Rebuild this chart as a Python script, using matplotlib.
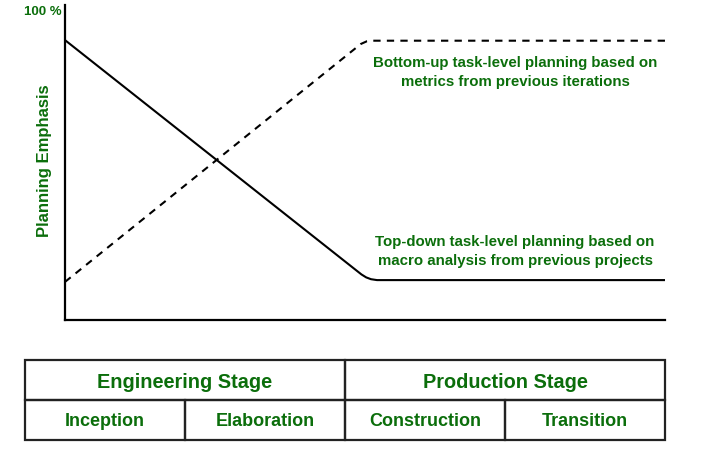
import matplotlib.pyplot as plt
from matplotlib.patches import Rectangle

plt.rcParams['font.family'] = ['Liberation Sans', 'DejaVu Sans']

GREEN = '#0b6e0b'

# curves, x = project time (0-100), y = planning emphasis (0-105)
top_down_x = [0, 49.4, 50.2, 51.0, 52.0, 100]
top_down_y = [93.3, 15.2, 14.2, 13.6, 13.3, 13.3]
bottom_up_x = [0, 49.3, 50.3, 51.2, 100]
bottom_up_y = [12.7, 92.0, 92.9, 93.1, 93.1]

top_down_label = 'Top-down task-level planning based on\nmacro analysis from previous projects'
bottom_up_label = 'Bottom-up task-level planning based on\nmetrics from previous iterations'

stages = ['Engineering Stage', 'Production Stage']
phases = ['Inception', 'Elaboration', 'Construction', 'Transition']

W, H = 719, 472
fig = plt.figure(figsize=(W / 100, H / 100), dpi=100)

def box(x0, y0, x1, y1):
    # pixel box (from top-left) -> figure fraction
    return [x0 / W, 1 - y1 / H, (x1 - x0) / W, (y1 - y0) / H]

ax = fig.add_axes(box(65, 5, 665, 320))
ax.plot(top_down_x, top_down_y, color='black', lw=1.5, solid_capstyle='butt')
ax.plot(bottom_up_x, bottom_up_y, color='black', lw=1.5, linestyle=(0, (3.5, 3)))
ax.set_xlim(0, 100)
ax.set_ylim(0, 105)
ax.spines['top'].set_visible(False)
ax.spines['right'].set_visible(False)
for s in ['left', 'bottom']:
    ax.spines[s].set_linewidth(1.6)
ax.set_xticks([])
ax.set_yticks([])

ax.text(75, 82.5, bottom_up_label, ha='center', va='center', color=GREEN,
        fontsize=10.8, fontweight='bold', linespacing=1.5)
ax.text(75, 22.8, top_down_label, ha='center', va='center', color=GREEN,
        fontsize=10.8, fontweight='bold', linespacing=1.5)

fig.text(62 / W, 1 - 12 / H, '100 %', ha='right', va='center', color=GREEN,
         fontsize=9.5, fontweight='bold')
fig.text(45 / W, 1 - 161 / H, 'Planning Emphasis', ha='center', va='center',
         rotation=90, color=GREEN, fontsize=12, fontweight='bold')

# stage / phase table
tab = fig.add_axes(box(25, 360, 665, 440))
tab.set_xlim(0, 4)
tab.set_ylim(0, 2)
tab.axis('off')
for i, name in enumerate(stages):
    tab.add_patch(Rectangle((i * 2, 1), 2, 1, fill=False, lw=1.6, ec='#222222', clip_on=False))
    tab.text(i * 2 + 1, 1.5, name, ha='center', va='center_baseline', color=GREEN,
             fontsize=14.3, fontweight='bold')
for i, name in enumerate(phases):
    tab.add_patch(Rectangle((i, 0), 1, 1, fill=False, lw=1.6, ec='#222222', clip_on=False))
    tab.text(i + 0.5, 0.5, name, ha='center', va='center_baseline', color=GREEN,
             fontsize=13, fontweight='bold')

fig.savefig('out.png', dpi=100)
